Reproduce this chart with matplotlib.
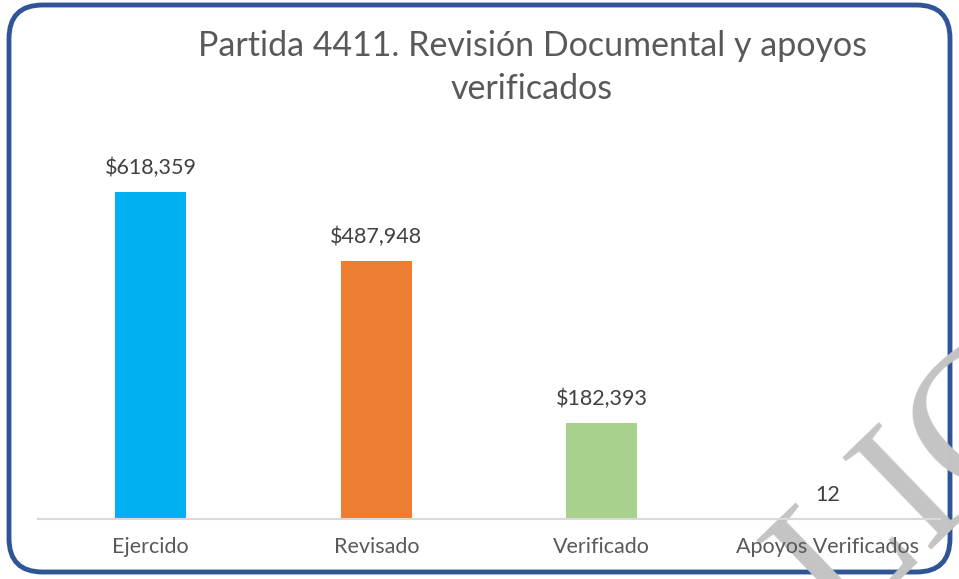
import matplotlib.pyplot as plt
from matplotlib.patches import FancyBboxPatch

# data
categories = ['Ejercido', 'Revisado', 'Verificado', 'Apoyos Verificados']
values = [618359, 487948, 182393, 12]
labels = ['$618,359', '$487,948', '$182,393', '12']
colors = ['#00B0F0', '#ED7D31', '#A9D18E', '#A5A5A5']

plt.rcParams['font.family'] = ['Lato', 'DejaVu Sans']

fig = plt.figure(figsize=(9.59, 5.79), dpi=100)
W, H = 959, 579

# rounded frame
frame = FancyBboxPatch((9 / W, 7 / H), 941 / W, 567 / H,
                       boxstyle='round,pad=0,rounding_size=0.035',
                       transform=fig.transFigure, facecolor='none',
                       edgecolor='#2F5597', linewidth=3.5, zorder=0,
                       mutation_aspect=W / H)
fig.patches.append(frame)

ax = fig.add_axes([38 / W, 60 / H, 902 / W, 370 / H])
ax.set_zorder(2)
ax.patch.set_alpha(0)
x = range(len(categories))
ax.bar(x, values, width=0.315, color=colors, zorder=2)
for xi, v, lab in zip(x, values, labels):
    ax.text(xi, v + 45000, lab, ha='center', va='center', fontsize=15.5,
            color='#404040')

ax.set_xlim(-0.5, 3.5)
ax.set_ylim(0, 700000)
ax.set_xticks(list(x))
ax.set_xticklabels(categories, fontsize=15.5, color='#595959')
ax.tick_params(axis='x', length=0, pad=13)
ax.set_yticks([])
for s in ['top', 'right', 'left']:
    ax.spines[s].set_visible(False)
ax.spines['bottom'].set_color('#D9D9D9')
ax.spines['bottom'].set_linewidth(1.5)

fig.text(532 / W, 1 - 46 / H, 'Partida 4411. Revisión Documental y apoyos',
         ha='center', va='center', fontsize=24.5, color='#595959')
fig.text(532 / W, 1 - 89 / H, 'verificados',
         ha='center', va='center', fontsize=24.5, color='#595959')

# watermark
fig.text(840 / W, -54 / H, 'LIC', fontsize=140, family='Liberation Serif',
         color='#C4C4C4', rotation=44, rotation_mode='anchor',
         ha='left', va='baseline', zorder=1)

fig.savefig('out.png', dpi=100)
